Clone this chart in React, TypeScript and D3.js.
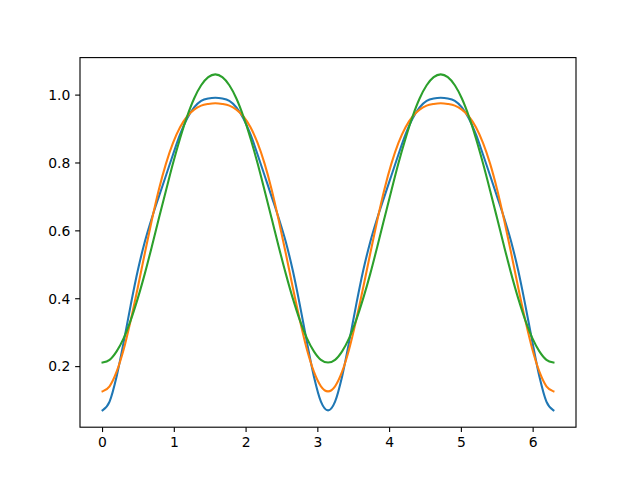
import React from "react";
import * as d3 from "d3";

const xs = [0, 0.098, 0.196, 0.295, 0.393, 0.491, 0.589, 0.687, 0.785, 0.884, 0.982, 1.080, 1.178, 1.276, 1.374, 1.473, 1.571, 1.669, 1.767, 1.865, 1.963, 2.062, 2.160, 2.258, 2.356, 2.454, 2.553, 2.651, 2.749, 2.847, 2.945, 3.043, 3.142, 3.240, 3.338, 3.436, 3.534, 3.632, 3.731, 3.829, 3.927, 4.025, 4.123, 4.222, 4.320, 4.418, 4.516, 4.614, 4.712, 4.811, 4.909, 5.007, 5.105, 5.203, 5.301, 5.400, 5.498, 5.596, 5.694, 5.792, 5.890, 5.989, 6.087, 6.185, 6.283];

const blueVals = [0.071, 0.097, 0.171, 0.273, 0.382, 0.483, 0.568, 0.638, 0.701, 0.763, 0.825, 0.884, 0.931, 0.964, 0.983, 0.990, 0.992, 0.990, 0.983, 0.964, 0.931, 0.884, 0.825, 0.763, 0.701, 0.638, 0.568, 0.483, 0.382, 0.273, 0.171, 0.097, 0.071, 0.097, 0.171, 0.273, 0.382, 0.483, 0.568, 0.638, 0.701, 0.763, 0.825, 0.884, 0.931, 0.964, 0.983, 0.990, 0.992, 0.990, 0.983, 0.964, 0.931, 0.884, 0.825, 0.763, 0.701, 0.638, 0.568, 0.483, 0.382, 0.273, 0.171, 0.097, 0.071];

const orangeVals = [0.127, 0.142, 0.185, 0.251, 0.337, 0.433, 0.534, 0.632, 0.722, 0.798, 0.859, 0.905, 0.937, 0.957, 0.969, 0.974, 0.976, 0.974, 0.969, 0.957, 0.937, 0.905, 0.859, 0.798, 0.722, 0.632, 0.534, 0.433, 0.337, 0.251, 0.185, 0.142, 0.127, 0.142, 0.185, 0.251, 0.337, 0.433, 0.534, 0.632, 0.722, 0.798, 0.859, 0.905, 0.937, 0.957, 0.969, 0.974, 0.976, 0.974, 0.969, 0.957, 0.937, 0.905, 0.859, 0.798, 0.722, 0.632, 0.534, 0.433, 0.337, 0.251, 0.185, 0.142, 0.127];

const greenVals = [0.212, 0.220, 0.245, 0.284, 0.337, 0.401, 0.474, 0.554, 0.637, 0.719, 0.799, 0.872, 0.937, 0.990, 1.029, 1.053, 1.061, 1.053, 1.029, 0.990, 0.937, 0.872, 0.799, 0.719, 0.637, 0.554, 0.474, 0.401, 0.337, 0.284, 0.245, 0.220, 0.212, 0.220, 0.245, 0.284, 0.337, 0.401, 0.474, 0.554, 0.637, 0.719, 0.799, 0.872, 0.937, 0.990, 1.029, 1.053, 1.061, 1.053, 1.029, 0.990, 0.937, 0.872, 0.799, 0.719, 0.637, 0.554, 0.474, 0.401, 0.337, 0.284, 0.245, 0.220, 0.212];

const xTicks = [0, 1, 2, 3, 4, 5, 6];
const yTicks = [0.2, 0.4, 0.6, 0.8, 1.0];

const seriesList = [
  { name: "blue", values: blueVals, color: "#1f77b4" },
  { name: "orange", values: orangeVals, color: "#ff7f0e" },
  { name: "green", values: greenVals, color: "#2ca02c" },
];

export default function App() {
  const W = 640, H = 480;
  const left = 80, right = 576, top = 57.6, bottom = 427.2;
  const xMin = d3.min(xs)!, xMax = d3.max(xs)!;
  const allY = [...blueVals, ...orangeVals, ...greenVals];
  const yMin = d3.min(allY)!, yMax = d3.max(allY)!;
  const xm = (xMax - xMin) * 0.05, ym = (yMax - yMin) * 0.05;
  const x = d3.scaleLinear().domain([xMin - xm, xMax + xm]).range([left, right]);
  const y = d3.scaleLinear().domain([yMin - ym, yMax + ym]).range([bottom, top]);
  const font = "'DejaVu Sans', sans-serif";
  const tickLen = 4.86;

  return (
    <svg width={W} height={H} style={{ position: "absolute", left: 0, top: 0, background: "#fff" }}>
      <defs>
        <clipPath id="plotclip">
          <rect x={left} y={top} width={right - left} height={bottom - top} />
        </clipPath>
      </defs>
      <g clipPath="url(#plotclip)">
        {seriesList.map((s) => {
          const line = d3
            .line<number>()
            .x((_, i) => x(xs[i]))
            .y((d) => y(d))
            .curve(d3.curveMonotoneX);
          return (
            <path
              key={s.name}
              d={line(s.values) || ""}
              fill="none"
              stroke={s.color}
              strokeWidth={2.08}
              strokeLinejoin="round"
              strokeLinecap="square"
            />
          );
        })}
      </g>
      <rect x={left} y={top} width={right - left} height={bottom - top} fill="none" stroke="#000" strokeWidth={1.11} />
      {xTicks.map((t) => (
        <g key={"x" + t}>
          <line x1={x(t)} x2={x(t)} y1={bottom} y2={bottom + tickLen} stroke="#000" strokeWidth={1.11} />
          <text x={x(t)} y={bottom + tickLen + 4.86 + 10.5} textAnchor="middle" fontFamily={font} fontSize={13.9} fill="#000">
            {t}
          </text>
        </g>
      ))}
      {yTicks.map((t) => (
        <g key={"y" + t}>
          <line x1={left - tickLen} x2={left} y1={y(t)} y2={y(t)} stroke="#000" strokeWidth={1.11} />
          <text x={left - tickLen - 4.86} y={y(t)} dy="0.35em" textAnchor="end" fontFamily={font} fontSize={13.9} fill="#000">
            {t.toFixed(1)}
          </text>
        </g>
      ))}
    </svg>
  );
}
